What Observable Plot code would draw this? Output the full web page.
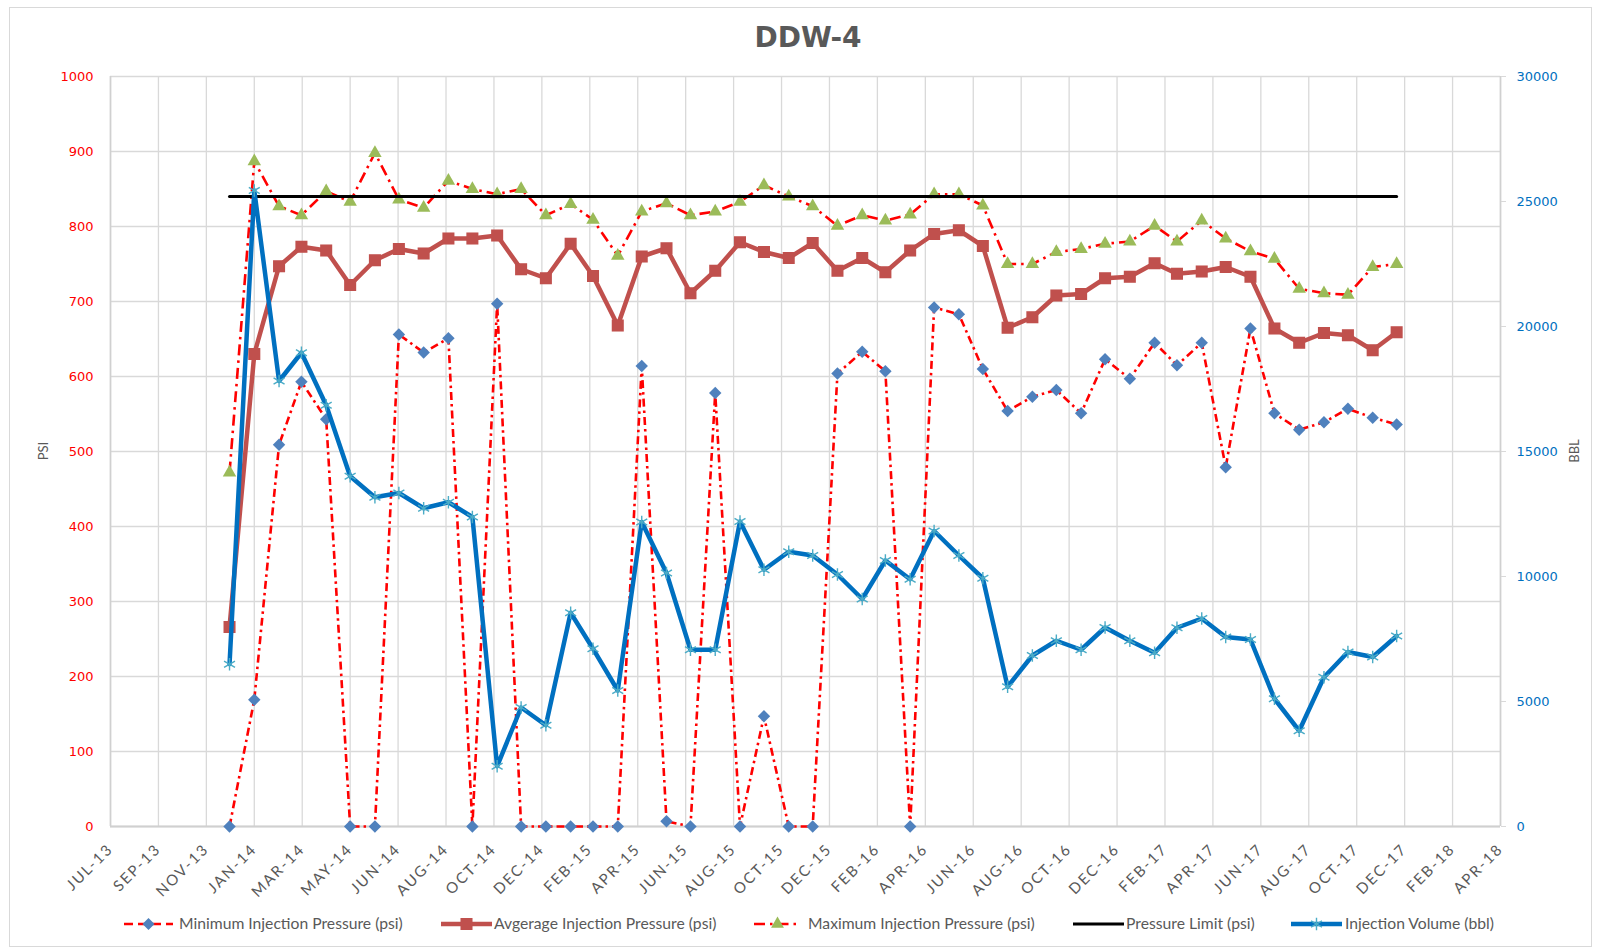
<!DOCTYPE html>
<html>
<head>
<meta charset="utf-8">
<script src="https://cdn.jsdelivr.net/npm/d3@7"></script>
<script src="https://cdn.jsdelivr.net/npm/@observablehq/plot@0.6"></script>
<style>
  body { margin: 0; background: #fff; }
  #wrap { position: relative; width: 1598px; height: 950px; overflow: hidden; background: #fff; }
  #border { position: absolute; left: 9px; top: 7px; width: 1583px; height: 940px; border: 1.5px solid #D9D9D9; box-sizing: border-box; }
  #title { position: absolute; left: 708px; width: 200px; top: 20px; text-align: center; font: bold 28px "DejaVu Sans"; color: #595959; line-height: 36px; }
  #chart { position: absolute; left: 0; top: 0; }
  #legend { position: absolute; left: 0; top: 905px; }
  .ytitle { position: absolute; font: 13px Lato; color: #595959; transform: rotate(-90deg); transform-origin: center; width: 60px; text-align: center; line-height: 16px; }
  g[aria-label="x-axis tick label"] text { letter-spacing: 1.9px; }
</style>
</head>
<body>
<div id="wrap">
  <div id="border"></div>
  <div id="title"></div>
  <div id="chart"></div>
  <div class="ytitle" id="ytl" style="left:13px; top:443px;"></div>
  <div class="ytitle" id="ytr" style="left:1544px; top:443px;"></div>
  <div id="legend"></div>
</div>
<script>
// ---------------- data ----------------
const chartTitle = "DDW-4";
const leftAxisTitle = "PSI";
const rightAxisTitle = "BBL";

const months = [
  "2013-12-01","2014-01-01","2014-02-01","2014-03-01","2014-04-01","2014-05-01","2014-06-01",
  "2014-07-01","2014-08-01","2014-09-01","2014-10-01","2014-11-01","2014-12-01",
  "2015-01-01","2015-02-01","2015-03-01","2015-04-01","2015-05-01","2015-06-01",
  "2015-07-01","2015-08-01","2015-09-01","2015-10-01","2015-11-01","2015-12-01",
  "2016-01-01","2016-02-01","2016-03-01","2016-04-01","2016-05-01","2016-06-01",
  "2016-07-01","2016-08-01","2016-09-01","2016-10-01","2016-11-01","2016-12-01",
  "2017-01-01","2017-02-01","2017-03-01","2017-04-01","2017-05-01","2017-06-01",
  "2017-07-01","2017-08-01","2017-09-01","2017-10-01","2017-11-01","2017-12-01"
];

const minPressure = [0,169,509,593,543,0,0,656,632,651,0,697,0,0,0,0,0,614,7,0,578,0,147,0,0,
  604,633,607,0,692,683,610,554,573,582,551,623,597,645,615,645,479,664,551,529,539,557,545,536];

const avgPressure = [266,630,747,773,768,722,755,770,764,784,784,788,743,731,777,734,668,760,771,711,741,779,766,758,778,
  741,758,739,768,790,795,774,665,679,708,710,731,733,751,737,740,746,733,664,645,658,655,635,659];

const maxPressure = [472,887,827,815,847,833,898,836,825,861,850,843,850,815,830,809,761,820,831,815,820,833,855,840,827,
  801,815,808,816,843,843,828,750,750,766,770,777,780,801,780,808,784,767,757,717,711,709,746,750];

const pressureLimit = 840;

const injectionVolume = [6490,25440,17820,18950,16850,14010,13170,13340,12730,12970,12380,2410,4760,4050,8550,7110,5440,
  12180,10140,7070,7070,12200,10270,10990,10840,10080,9100,10640,9890,11820,10840,9930,5590,6840,7430,7070,7960,
  7430,6950,7950,8320,7580,7480,5110,3830,5970,6980,6780,7620];

const seriesNames = [
  "Minimum Injection Pressure (psi)",
  "Avgerage Injection Pressure (psi)",
  "Maximum Injection Pressure (psi)",
  "Pressure Limit (psi)",
  "Injection Volume (bbl)"
];

const xTickDates = ["2013-07-05","2013-09-03","2013-11-02","2014-01-01","2014-03-02","2014-05-01","2014-06-30",
  "2014-08-29","2014-10-28","2014-12-27","2015-02-25","2015-04-26","2015-06-25","2015-08-24","2015-10-23",
  "2015-12-22","2016-02-20","2016-04-20","2016-06-19","2016-08-18","2016-10-17","2016-12-16","2017-02-14",
  "2017-04-15","2017-06-14","2017-08-13","2017-10-12","2017-12-11","2018-02-09","2018-04-10"];
const xTickLabels = ["JUL-13","SEP-13","NOV-13","JAN-14","MAR-14","MAY-14","JUN-14","AUG-14","OCT-14","DEC-14",
  "FEB-15","APR-15","JUN-15","AUG-15","OCT-15","DEC-15","FEB-16","APR-16","JUN-16","AUG-16","OCT-16","DEC-16",
  "FEB-17","APR-17","JUN-17","AUG-17","OCT-17","DEC-17","FEB-18","APR-18"];

const psiTicks = [0,100,200,300,400,500,600,700,800,900,1000];
const bblTicks = [0,5000,10000,15000,20000,25000,30000];

// ---------------- build ----------------
const psiMax = psiTicks[psiTicks.length - 1];
const bblMax = bblTicks[bblTicks.length - 1];
const bblPerPsi = bblMax / psiMax;

const table = months.map((m, i) => ({
  date: new Date(m),
  min: minPressure[i],
  avg: avgPressure[i],
  max: maxPressure[i],
  vol: injectionVolume[i]
}));
const tickDates = xTickDates.map(d => new Date(d));
const labelByTime = new Map(tickDates.map((d, i) => [+d, xTickLabels[i]]));
const limitData = [
  {date: new Date(months[0]), v: pressureLimit},
  {date: new Date(months[months.length - 1]), v: pressureLimit}
];

const RED = "#FF0000", BLUEPT = "#4F81BD", AVG = "#C0504D", GREEN = "#9BBB59", VOL = "#0070C0", STAR = "#4BACC6", GRID = "#D9D9D9";
const MIN_DASH = "8,4,2.5,4", MAX_DASH = "11,5,2.5,5";

const chart = Plot.plot({
  width: 1598,
  height: 950,
  marginLeft: 110,
  marginRight: 98,
  marginTop: 76,
  marginBottom: 124,
  x: {type: "utc", domain: [tickDates[0], tickDates[tickDates.length - 1]]},
  y: {domain: [0, psiMax]},
  style: {background: "transparent", fontFamily: "Lato", overflow: "visible"},
  marks: [
    Plot.ruleY(psiTicks, {stroke: GRID, strokeWidth: 1.3}),
    Plot.ruleX(tickDates, {stroke: GRID, strokeWidth: 1.3}),
    Plot.ruleY([0], {stroke: "#D0D0D0", strokeWidth: 2}),
    Plot.ruleX([tickDates[0], tickDates[tickDates.length - 1]], {stroke: "#D0D0D0", strokeWidth: 1.6}),
    // min
    Plot.line(table, {x: "date", y: "min", stroke: RED, strokeWidth: 2.6, strokeDasharray: MIN_DASH, strokeLinecap: "butt"}),
    Plot.dot(table, {x: "date", y: "min", symbol: "diamond2", r: 5.6, fill: BLUEPT, stroke: null}),
    // avg
    Plot.line(table, {x: "date", y: "avg", stroke: AVG, strokeWidth: 4.5, strokeLinejoin: "miter"}),
    Plot.dot(table, {x: "date", y: "avg", symbol: "square", r: 6.8, fill: AVG, stroke: null}),
    // max
    Plot.line(table, {x: "date", y: "max", stroke: RED, strokeWidth: 2.6, strokeDasharray: MAX_DASH, strokeLinecap: "butt"}),
    Plot.dot(table, {x: "date", y: "max", symbol: "triangle", r: 5, fill: GREEN, stroke: null}),
    // limit
    Plot.line(limitData, {x: "date", y: "v", stroke: "#000", strokeWidth: 3}),
    // volume (secondary axis, mapped onto the psi scale)
    Plot.line(table, {x: "date", y: d => d.vol / bblPerPsi, stroke: VOL, strokeWidth: 4.5}),
    Plot.dot(table, {x: "date", y: d => d.vol / bblPerPsi, symbol: "asterisk", r: 6, stroke: STAR, strokeWidth: 1.4, fill: "none"}),
    // axes
    Plot.axisY(psiTicks, {anchor: "left", tickSize: 0, tickPadding: 17, fill: RED, fontSize: 13, fontFamily: "DejaVu Sans", label: null, tickFormat: d => String(d)}),
    Plot.axisY(bblTicks.map(v => v / bblPerPsi), {anchor: "right", tickSize: 5, tickPadding: 11, stroke: GRID, fill: VOL, fontSize: 13, fontFamily: "DejaVu Sans", label: null, tickFormat: d => String(Math.round(d * bblPerPsi))}),
    Plot.axisX(tickDates, {anchor: "bottom", tickSize: 0, tickPadding: 20, tickRotate: -45, fill: "#595959", fontSize: 15, fontFamily: "Lato", label: null, tickFormat: d => labelByTime.get(+d)})
  ]
});
document.getElementById("chart").appendChild(chart);
document.getElementById("title").textContent = chartTitle;
document.getElementById("ytl").textContent = leftAxisTitle;
document.getElementById("ytr").textContent = rightAxisTitle;

// ---------------- legend ----------------
const lg = d3.select("#legend").append("svg").attr("width", 1598).attr("height", 40);
const cy = 19;
const sym = (type, size) => d3.symbol().type(type).size(size)();
const items = [
  {x0: 124, x1: 173, text: 179, stroke: RED, sw: 2.6, dash: "9,5", marker: {path: sym(d3.symbolDiamond2, 92), fill: BLUEPT}},
  {x0: 441, x1: 492, text: 494, stroke: AVG, sw: 4.5, dash: null, marker: {path: sym(d3.symbolSquare, 145), fill: AVG}},
  {x0: 754, x1: 801, text: 808, stroke: RED, sw: 2.6, dash: MAX_DASH, marker: {path: sym(d3.symbolTriangle, 72), fill: GREEN}},
  {x0: 1073, x1: 1124, text: 1126, stroke: "#000", sw: 3, dash: null, marker: null},
  {x0: 1291, x1: 1342, text: 1345, stroke: VOL, sw: 4.5, dash: null, marker: {path: sym(d3.symbolAsterisk, 113), stroke: STAR}}
];
items.forEach((it, i) => {
  const g = lg.append("g");
  g.append("line").attr("x1", it.x0).attr("x2", it.x1).attr("y1", cy).attr("y2", cy)
    .attr("stroke", it.stroke).attr("stroke-width", it.sw).attr("stroke-dasharray", it.dash);
  if (it.marker) {
    g.append("path").attr("d", it.marker.path)
      .attr("transform", `translate(${(it.x0 + it.x1) / 2},${cy})`)
      .attr("fill", it.marker.fill || "none").attr("stroke", it.marker.stroke || "none").attr("stroke-width", 1.4);
  }
  g.append("text").attr("x", it.text).attr("y", cy).attr("dy", "0.35em")
    .attr("font-family", "Lato").attr("font-size", 15.7).attr("fill", "#595959").text(seriesNames[i]);
});
</script>
</body>
</html>
